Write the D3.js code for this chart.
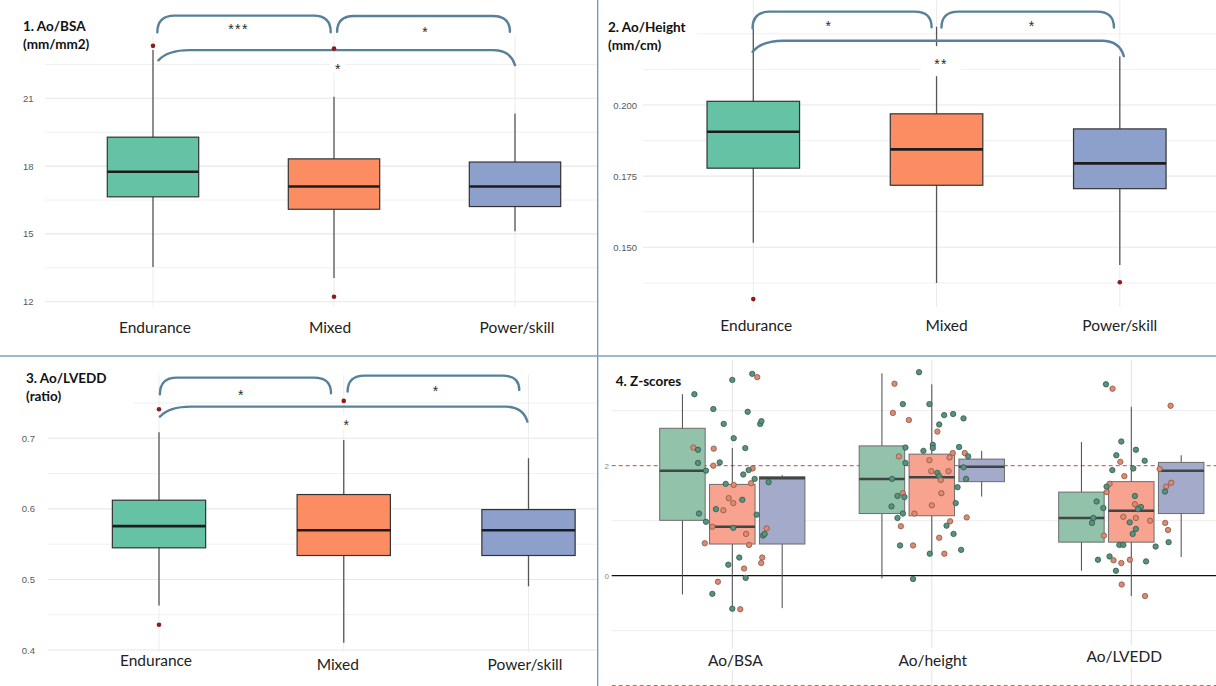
<!DOCTYPE html>
<html><head><meta charset="utf-8">
<script src="https://cdn.jsdelivr.net/npm/d3@7"></script>
<style>body{margin:0;background:#fff;}svg{display:block;}</style>
</head><body>
<svg id="c" width="1216" height="686"></svg>
<script>
// ---------------- DATA ----------------
const groups = ["Endurance", "Mixed", "Power/skill"];

// Panel 1: Ao/BSA (mm/mm2)
const bsaQ1 = [16.64, 16.09, 16.21];
const bsaMedian = [17.75, 17.10, 17.10];
const bsaQ3 = [19.28, 18.32, 18.18];
const bsaLow = [13.54, 13.05, 15.12];
const bsaHigh = [23.14, 21.07, 20.33];
const bsaOutliers = [[23.32], [12.22, 23.20], []];
const bsaTicks = [12, 15, 18, 21];
const bsaMinor = [13.5, 16.5, 19.5, 22.5];

// Panel 2: Ao/Height (mm/cm)
const htQ1 = [0.1778, 0.1718, 0.1706];
const htMedian = [0.1906, 0.1844, 0.1795];
const htQ3 = [0.2013, 0.1969, 0.1916];
const htLow = [0.1516, 0.1375, 0.1438];
const htHigh = [0.2270, 0.2275, 0.2170];
const htOutliers = [[0.1318], [], [0.1377]];
const htTicks = [0.150, 0.175, 0.200];
const htMinor = [0.1375, 0.1625, 0.1875, 0.2125, 0.225];

// Panel 3: Ao/LVEDD (ratio)
const lvQ1 = [0.5448, 0.5339, 0.5339];
const lvMedian = [0.5755, 0.5698, 0.5698];
const lvQ3 = [0.6123, 0.6203, 0.5990];
const lvLow = [0.463, 0.4104, 0.4903];
const lvHigh = [0.7085, 0.6977, 0.6718];
const lvOutliers = [[0.7412, 0.4357], [0.753], []];
const lvTicks = [0.4, 0.5, 0.6, 0.7];
const lvMinor = [0.45, 0.55, 0.65, 0.75];

// Significance brackets [from, to, label]
const bsaSig = [[0, 1, "***"], [1, 2, "*"], [0, 2, "*"]];
const htSig = [[0, 1, "*"], [1, 2, "*"], [0, 2, "**"]];
const lvSig = [[0, 1, "*"], [1, 2, "*"], [0, 2, "*"]];
// bracket levels in data units: [top, leftEnd, rightEnd, labelCentre]
const bsaSigLevels = [[24.66, 23.92, 23.92, 24.2], [24.64, 23.94, 23.94, 24.07], [23.13, 22.68, 22.47, 22.44]];
const htSigLevels = [[0.2328, 0.2270, 0.2273, 0.2289], [0.2328, 0.2272, 0.2272, 0.2289], [0.2226, 0.2187, 0.2172, 0.2154]];
const lvSigLevels = [[0.786, 0.7625, 0.7639, 0.7662], [0.7888, 0.7662, 0.7686, 0.771], [0.7449, 0.7307, 0.7237, 0.7228]];

// Panel 4: Z-scores
const metrics = ["Ao/BSA", "Ao/height", "Ao/LVEDD"];
// per metric, per group: [q1, median, q3, whiskerLow, whiskerHigh]
const zBSA = [[1.007, 1.91, 2.68, -0.34, 3.30], [0.576, 0.89, 1.66, -0.59, 2.32], [0.576, 1.77, 1.80, -0.59, 1.83]];
const zHeight = [[1.13, 1.76, 2.36, -0.05, 3.68], [1.09, 1.79, 2.21, 0.39, 3.48], [1.71, 1.98, 2.12, 1.44, 2.27]];
const zLVEDD = [[0.61, 1.05, 1.52, 0.09, 2.43], [0.61, 1.18, 1.71, -0.37, 3.07], [1.13, 1.91, 2.06, 0.34, 2.19]];
const zTicks = [0, 2];
const zMinor = [-1, 1, 3];
const zRefLines = [2, -2];
// jittered points: [jitter (fraction of category step), z, group index]
const zBSADots = [[0.10,3.67,0],[0.125,3.61,1],[0.0,3.56,0],[-0.19,3.30,0],[-0.095,3.03,0],[0.077,2.98,0],[-0.043,2.76,0],[0.14,2.76,0],[0.146,2.81,0],[0.007,2.50,0],[-0.195,2.33,1],[-0.172,2.29,0],[-0.093,2.31,1],[0.065,2.32,0],[-0.172,2.05,0],[-0.063,2.06,0],[-0.095,2.00,1],[0.102,1.95,1],[0.082,1.92,0],[0.055,1.84,0],[-0.132,1.91,0],[0.112,1.76,0],[0.182,1.70,0],[-0.033,1.67,0],[0.007,1.65,1],[0.094,1.68,1],[-0.018,1.41,1],[0.05,1.38,0],[0.005,1.32,1],[-0.082,1.21,0],[-0.045,1.19,1],[-0.167,1.13,0],[0.122,1.11,0],[-0.132,0.98,0],[-0.10,0.89,1],[0.005,0.87,0],[0.172,0.86,1],[0.069,0.76,1],[0.154,0.73,0],[0.162,0.76,0],[-0.138,0.59,1],[0.084,0.56,1],[0.035,0.33,0],[0.15,0.33,1],[-0.02,0.20,0],[0.145,0.23,1],[0.059,0.13,1],[0.067,-0.04,0],[-0.072,-0.11,1],[-0.10,-0.33,0],[0.0,-0.60,0],[0.04,-0.61,1]];
const zHeightDots = [[-0.064,3.70,0],[-0.187,3.49,1],[-0.145,3.12,0],[-0.012,3.12,0],[-0.195,2.96,1],[0.062,2.92,0],[0.107,2.94,0],[0.159,2.86,0],[-0.115,2.83,1],[0.037,2.75,0],[0.028,2.62,1],[0.005,2.38,0],[0.005,2.32,0],[-0.042,2.27,0],[-0.132,2.33,0],[0.137,2.34,0],[0.105,2.23,1],[0.165,2.23,1],[0.182,2.17,0],[-0.165,2.17,1],[0.089,2.15,1],[-0.012,2.10,1],[-0.132,2.05,0],[0.159,1.97,0],[-0.003,1.90,1],[0.028,1.87,0],[0.084,1.90,1],[0.037,1.81,0],[-0.199,1.76,0],[0.045,1.74,1],[0.172,1.76,0],[0.129,1.61,0],[0.048,1.50,1],[-0.145,1.50,1],[-0.172,1.45,0],[-0.137,1.43,0],[0.12,1.32,0],[-0.202,1.26,0],[0.0,1.28,1],[-0.145,1.13,0],[-0.087,1.13,1],[-0.172,1.05,0],[0.175,1.06,1],[0.092,0.99,1],[-0.155,0.90,1],[0.074,0.91,0],[0.109,0.76,0],[0.037,0.69,1],[-0.159,0.55,0],[-0.094,0.55,1],[0.147,0.47,0],[-0.01,0.40,0],[0.063,0.40,1],[-0.094,-0.06,0]];
const zLVEDDDots = [[-0.127,3.48,0],[-0.094,3.40,1],[0.197,3.09,1],[-0.05,2.44,0],[0.023,2.29,0],[-0.075,2.19,0],[0.067,2.09,0],[-0.055,2.07,1],[0.01,1.95,0],[-0.095,1.92,0],[0.142,1.94,1],[-0.035,1.81,1],[-0.109,1.67,1],[-0.124,1.62,0],[0.20,1.69,1],[0.175,1.62,1],[0.169,1.53,0],[-0.124,1.52,1],[0.018,1.45,0],[-0.174,1.35,0],[0.018,1.30,1],[0.048,1.25,0],[-0.14,1.23,0],[0.033,1.21,0],[-0.04,1.07,1],[0.023,1.05,1],[0.094,1.00,1],[-0.19,1.05,0],[-0.197,0.96,0],[-0.008,0.97,0],[0.17,0.96,1],[0.023,0.85,0],[0.184,0.83,1],[0.007,0.76,0],[-0.137,0.73,1],[0.187,0.61,0],[-0.06,0.56,0],[-0.04,0.56,0],[0.122,0.53,0],[-0.167,0.29,0],[-0.109,0.35,0],[-0.089,0.28,1],[-0.05,0.23,1],[-0.007,0.29,1],[0.074,0.26,0],[-0.077,0.09,0],[-0.048,-0.16,1],[0.069,-0.37,1]];

// ---------------- STYLE / LAYOUT ----------------
const FONT = "Lato, 'Open Sans', sans-serif";
const TICKFONT = "'Liberation Sans', Arial, sans-serif";
const boxFill = ["#66c2a5", "#fc8d62", "#8da0cb"];
const zBoxFill = ["#93c2aa", "#f7a390", "#a4aac9"];
const dotFill = ["#55937e", "#dc8a70"];
const dotStroke = ["#37574c", "#8c5747"];
const bracketColor = "#56819a";
const svg = d3.select("#c");

function bracketPath(x1, y1, x2, y2, yt, r1, r2, k1, k2) {
  return `M${x1},${y1}Q${x1 + r1 * k1},${yt} ${x1 + r1},${yt}L${x2 - r2},${yt}Q${x2 - r2 * k2},${yt} ${x2},${y2}`;
}

function drawTitle(g, lines, x, baselines, bgPad) {
  const tg = g.append("g");
  const bg = tg.append("rect").attr("fill", "#fff");
  const texts = lines.map((t, i) => tg.append("text").attr("x", x).attr("y", baselines[i])
    .attr("font-family", FONT).attr("font-weight", 700).attr("font-size", 13.5).attr("fill", "#111").text(t));
  const w = d3.max(texts, t => t.node().getComputedTextLength());
  bg.attr("x", x - 3).attr("y", baselines[0] - 14).attr("width", w + bgPad)
    .attr("height", baselines[baselines.length - 1] - baselines[0] + 22);
}

function drawBoxPanel(p) {
  const g = svg.append("g");
  const x = d3.scalePoint().domain(groups).range(p.xRange);
  const step = x.step();
  const y = d3.scaleLinear().domain(p.yDomain).range(p.yRange);
  const [gx0, gx1] = p.gridX;
  // grid
  g.selectAll(".mi").data(p.minor).join("line")
    .attr("x1", gx0).attr("x2", gx1).attr("y1", d => y(d)).attr("y2", d => y(d))
    .attr("stroke", "#f0f0f0").attr("stroke-width", 1);
  g.selectAll(".ma").data(p.ticks).join("line")
    .attr("x1", gx0).attr("x2", gx1).attr("y1", d => y(d)).attr("y2", d => y(d))
    .attr("stroke", "#e7e7e7").attr("stroke-width", 1.1);
  g.selectAll(".vg").data(groups).join("line")
    .attr("x1", d => x(d)).attr("x2", d => x(d)).attr("y1", y(p.plotTop)).attr("y2", y(p.plotBottom))
    .attr("stroke", "#ececec").attr("stroke-width", 1);
  // y axis labels
  const ax = g.append("g").attr("transform", `translate(${p.tickX},0)`)
    .call(d3.axisLeft(y).tickValues(p.ticks).tickSize(0).tickPadding(0).tickFormat(p.fmt));
  ax.select(".domain").remove();
  ax.selectAll("text").attr("font-family", TICKFONT).attr("font-size", 9.5).attr("fill", "#5a5a5a");
  // title
  drawTitle(g, p.title, p.titleX, p.titleY, p.titlePad);
  // whiskers, boxes, medians
  const bw = step * 0.505;
  g.selectAll(".wh").data(groups).join("line")
    .attr("x1", d => x(d)).attr("x2", d => x(d))
    .attr("y1", (d, i) => y(p.low[i])).attr("y2", (d, i) => y(p.high[i]))
    .attr("stroke", "#555").attr("stroke-width", 1.3);
  g.selectAll(".bx").data(groups).join("rect")
    .attr("x", d => x(d) - bw / 2).attr("width", bw)
    .attr("y", (d, i) => y(p.q3[i])).attr("height", (d, i) => y(p.q1[i]) - y(p.q3[i]))
    .attr("fill", (d, i) => boxFill[i]).attr("stroke", "#333").attr("stroke-width", 1.2);
  g.selectAll(".md").data(groups).join("line")
    .attr("x1", d => x(d) - bw / 2).attr("x2", d => x(d) + bw / 2)
    .attr("y1", (d, i) => y(p.median[i])).attr("y2", (d, i) => y(p.median[i]))
    .attr("stroke", "#1c1c1c").attr("stroke-width", 2.6);
  // brackets
  p.sig.forEach((s, i) => {
    const [a, b, label] = s;
    const [top, e1, e2, ly] = p.sigLevels[i];
    const st = p.sigStyle[i];
    const x1 = x(groups[a]) + st.dx1 * step, x2 = x(groups[b]) + st.dx2 * step;
    g.append("path").attr("d", bracketPath(x1, y(e1), x2, y(e2), y(top), st.r1, st.r2, st.k1, st.k2))
      .attr("fill", "none").attr("stroke", bracketColor).attr("stroke-width", 2.4).attr("stroke-linecap", "round");
    const lx = (x1 + x2) / 2 + (st.ldx || 0) * step;
    if (st.bg) {
      g.append("rect").attr("x", lx - st.bg[0] / 2).attr("y", y(ly) - st.bg[1] / 2)
        .attr("width", st.bg[0]).attr("height", st.bg[1]).attr("fill", "#fff");
    }
    g.append("text").attr("x", lx).attr("y", y(ly) + 14 * 0.57).attr("text-anchor", "middle")
      .attr("font-family", TICKFONT).attr("font-size", 14).attr("letter-spacing", label.length > 1 ? 1.5 : 0)
      .attr("fill", "#2a2a2a").text(label);
  });
  // outliers
  const outs = p.outliers.flatMap((arr, i) => arr.map(v => [i, v]));
  g.selectAll(".ol").data(outs).join("circle")
    .attr("cx", d => x(groups[d[0]])).attr("cy", d => y(d[1])).attr("r", 2.3).attr("fill", "#8b1c1c");
  // category labels
  g.selectAll(".cl").data(groups).join("text")
    .attr("x", (d, i) => x(d) + p.labelDx[i]).attr("y", (d, i) => p.labelY[i])
    .attr("text-anchor", "middle").attr("font-family", FONT).attr("font-size", 15.5).attr("fill", "#222").text(d => d);
}

const shortB = (dx1, dx2, ldx) => ({dx1, dx2, r1: 17, r2: 17, k1: 0, k2: 0, ldx});
drawBoxPanel({
  title: ["1. Ao/BSA", "(mm/mm2)"], titleX: 23, titleY: [31, 49], titlePad: 14,
  xRange: [153, 515], yDomain: [12, 21], yRange: [301.7, 98.3], plotTop: 23.8, plotBottom: 11.77,
  ticks: bsaTicks, minor: bsaMinor, fmt: d3.format("d"), gridX: [45, 597], tickX: 33.5,
  q1: bsaQ1, median: bsaMedian, q3: bsaQ3, low: bsaLow, high: bsaHigh, outliers: bsaOutliers,
  sig: bsaSig, sigLevels: bsaSigLevels,
  sigStyle: [shortB(0.024, -0.018, -0.03), shortB(0.017, -0.028, 0.008),
    {dx1: 0.03, dx2: 0, r1: 31, r2: 22, k1: 0.3, k2: 0.2, ldx: 0.005, bg: [16, 14]}],
  labelY: [332.5, 332.5, 332.5], labelDx: [2, -4, 2]
});
drawBoxPanel({
  title: ["2. Ao/Height", "(mm/cm)"], titleX: 608, titleY: [31.7, 50], titlePad: 14,
  xRange: [753.3, 1119.8], yDomain: [0.15, 0.2], yRange: [247.3, 105], plotTop: 0.2368, plotBottom: 0.129,
  ticks: htTicks, minor: htMinor, fmt: d3.format(".3f"), gridX: [643, 1216], tickX: 637,
  q1: htQ1, median: htMedian, q3: htQ3, low: htLow, high: htHigh, outliers: htOutliers,
  sig: htSig, sigLevels: htSigLevels,
  sigStyle: [shortB(-0.004, -0.027, -0.075), shortB(0.027, -0.032, 0.02),
    {dx1: -0.004, dx2: 0.022, r1: 31, r2: 22, k1: 0.3, k2: 0.2, ldx: 0.016, bg: [40, 30]}],
  labelY: [330.6, 330.6, 330.6], labelDx: [3, 10, 0]
});
drawBoxPanel({
  title: ["3. Ao/LVEDD", "(ratio)"], titleX: 26, titleY: [383.3, 401], titlePad: 30,
  xRange: [159, 528.5], yDomain: [0.4, 0.7], yRange: [650, 438.3], plotTop: 0.79, plotBottom: 0.397,
  ticks: lvTicks, minor: lvMinor, fmt: d3.format(".1f"), gridX: [48, 597], tickX: 35,
  q1: lvQ1, median: lvMedian, q3: lvQ3, low: lvLow, high: lvHigh, outliers: lvOutliers,
  sig: lvSig, sigLevels: lvSigLevels,
  sigStyle: [shortB(0.005, -0.069, -0.025), shortB(0.021, -0.05, 0.011),
    {dx1: 0.005, dx2: -0.006, r1: 31, r2: 22, k1: 0.3, k2: 0.2, ldx: 0.014, bg: [16, 14]}],
  labelY: [665.6, 670, 670], labelDx: [-3, -6, -3.5]
});

// ---------------- PANEL 4 ----------------
(function () {
  const g = svg.append("g");
  const x = d3.scalePoint().domain(metrics).range([732.3, 1131.3]);
  const step = x.step();
  const y = d3.scaleLinear().domain([0, 2]).range([575.7, 465.7]);
  const gx0 = 611.7, gx1 = 1216;
  g.selectAll(".mi").data(zMinor).join("line")
    .attr("x1", gx0).attr("x2", gx1).attr("y1", d => y(d)).attr("y2", d => y(d))
    .attr("stroke", "#ededed").attr("stroke-width", 1);
  g.selectAll(".vg").data(metrics).join("line")
    .attr("x1", d => x(d)).attr("x2", d => x(d)).attr("y1", y(3.93)).attr("y2", y(-2.05))
    .attr("stroke", "#e3e3e3").attr("stroke-width", 1);
  const ax = g.append("g").attr("transform", "translate(609,0)")
    .call(d3.axisLeft(y).tickValues(zTicks).tickSize(0).tickPadding(0).tickFormat(d3.format("d")));
  ax.select(".domain").remove();
  ax.selectAll("text").attr("font-family", TICKFONT).attr("font-size", 8).attr("fill", "#888");
  // zero line and reference lines
  g.append("line").attr("x1", gx0).attr("x2", gx1).attr("y1", y(0)).attr("y2", y(0))
    .attr("stroke", "#111").attr("stroke-width", 1.3);
  g.selectAll(".rf").data(zRefLines).join("line")
    .attr("x1", gx0).attr("x2", gx1).attr("y1", d => y(d)).attr("y2", d => y(d))
    .attr("stroke", "#c8463f").attr("stroke-width", 1).attr("stroke-dasharray", "4,3");
  const stats = [zBSA, zHeight, zLVEDD];
  const dots = [zBSADots, zHeightDots, zLVEDDDots];
  const offs = [-0.25, 0, 0.25];
  const bw = step * 0.228;
  metrics.forEach((m, mi) => {
    const cx = x(m);
    stats[mi].forEach((s, gi) => {
      const bx = cx + offs[gi] * step;
      g.append("line").attr("x1", bx).attr("x2", bx).attr("y1", y(s[3])).attr("y2", y(s[4]))
        .attr("stroke", "#4a4a4a").attr("stroke-width", 1);
      g.append("rect").attr("x", bx - bw / 2).attr("width", bw).attr("y", y(s[2])).attr("height", y(s[0]) - y(s[2]))
        .attr("fill", zBoxFill[gi]).attr("stroke", "#6c6c6c").attr("stroke-width", 1);
      g.append("line").attr("x1", bx - bw / 2).attr("x2", bx + bw / 2).attr("y1", y(s[1])).attr("y2", y(s[1]))
        .attr("stroke", "#3f4744").attr("stroke-width", 2.5);
    });
    g.selectAll(null).data(dots[mi]).join("circle")
      .attr("cx", d => cx + d[0] * step).attr("cy", d => y(d[1])).attr("r", 2.7)
      .attr("fill", d => dotFill[d[2]]).attr("stroke", d => dotStroke[d[2]]).attr("stroke-width", 0.8);
  });
  drawTitle(g, ["4. Z-scores"], 615.7, [386], 6);
  const labelDx = [3, 1, -7], labelY = [665.5, 665.5, 662];
  metrics.forEach((m, i) => {
    const t = g.append("text").attr("x", x(m) + labelDx[i]).attr("y", labelY[i]).attr("text-anchor", "middle")
      .attr("font-family", FONT).attr("font-size", 15.5).attr("fill", "#222").text(m);
    const bb = t.node().getBBox();
    g.insert("rect", () => t.node()).attr("x", bb.x - 3).attr("y", bb.y - 2).attr("width", bb.width + 6)
      .attr("height", bb.height + 4).attr("fill", "#fff");
  });
})();

// ---------------- PANEL DIVIDERS ----------------
svg.append("line").attr("x1", 597.7).attr("x2", 597.7).attr("y1", 0).attr("y2", 686)
  .attr("stroke", "#6f93b3").attr("stroke-width", 1.3);
svg.append("line").attr("x1", 0).attr("x2", 1216).attr("y1", 356).attr("y2", 356)
  .attr("stroke", "#7f9fbd").attr("stroke-width", 1.6);
</script>
</body></html>
